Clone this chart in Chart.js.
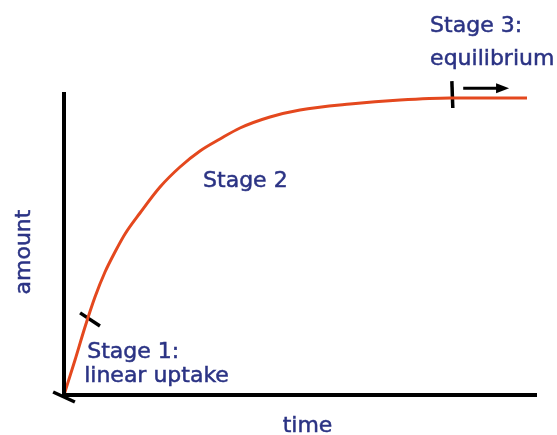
<!DOCTYPE html>
<html>
<head>
<meta charset="utf-8">
<script src="https://cdn.jsdelivr.net/npm/chart.js@4"></script>
<style>
  html, body { margin: 0; padding: 0; background: #fff; }
  #chart { display: block; }
</style>
</head>
<body>
<canvas id="chart" width="557" height="435"></canvas>
<script>
// ── Uptake curve: amount vs time (arbitrary units, 0–100) ──────────
const timeVals   = [0, 2.33, 4.44, 6.55, 8.67, 10.78, 12.9, 16.07, 20.3, 24.52, 28.75, 32.98, 37.21, 43.55, 49.89, 60.47, 71.04, 81.61, 97.89];
const amountVals = [0, 11.55, 22.44, 32.34, 40.59, 47.19, 53.14, 60.07, 68.65, 75.25, 80.53, 84.49, 88.12, 91.75, 94.06, 96.04, 97.36, 98.02, 98.02];

// stage markers (short black strokes across the curve), [x0, y0, x1, y1]
const stageMarks = [
  [-2.3, 1.0, 2.3, -2.3],
  [3.4, 27.1, 7.6, 22.8],
  [82.0, 103.6, 82.2, 94.7]
];
// arrow to the right of stage 3
const arrowFrom = [84.4, 101.2];
const arrowTo   = [94.1, 101.2];

// labels: [text lines, x, baseline y of first line, line gap px, indent of 2nd line]
const stageLabels = [
  [['Stage 1:', 'linear uptake'], 4.9, 12.2, 24, -3],
  [['Stage 2'], 29.4, 68.6, 0, 0],
  [['Stage 3:', 'equilibrium'], 77.4, 119.8, 33, 0]
];

const NAVY = '#2b3384';
const CURVE = '#e4481e';
const FONT = '22px "DejaVu Sans", Verdana, sans-serif';

const pts = timeVals.map((t, i) => ({ x: t, y: amountVals[i] }));

const markSets = stageMarks.map(m => ({
  data: [{ x: m[0], y: m[1] }, { x: m[2], y: m[3] }],
  showLine: true,
  borderColor: '#000',
  borderWidth: 3.5,
  pointRadius: 0,
  clip: false
}));

// ── Axes, arrow and text ───────────────────────────────────────────
const decor = {
  id: 'decor',
  afterDatasetsDraw(chart) {
    const { ctx, chartArea: a, scales: { x, y } } = chart;
    ctx.save();

    // axes
    ctx.strokeStyle = '#000';
    ctx.lineWidth = 4;
    ctx.beginPath();
    ctx.moveTo(x.getPixelForValue(0), a.top);
    ctx.lineTo(x.getPixelForValue(0), y.getPixelForValue(0) + 2);
    ctx.moveTo(x.getPixelForValue(0) - 2, y.getPixelForValue(0));
    ctx.lineTo(a.right, y.getPixelForValue(0));
    ctx.stroke();

    // arrow
    const ax0 = x.getPixelForValue(arrowFrom[0]), ay = y.getPixelForValue(arrowFrom[1]);
    const ax1 = x.getPixelForValue(arrowTo[0]);
    ctx.lineWidth = 3;
    ctx.beginPath();
    ctx.moveTo(ax0, ay);
    ctx.lineTo(ax1 - 8, ay);
    ctx.stroke();
    ctx.fillStyle = '#000';
    ctx.beginPath();
    ctx.moveTo(ax1, ay);
    ctx.lineTo(ax1 - 13, ay - 5);
    ctx.lineTo(ax1 - 13, ay + 5);
    ctx.closePath();
    ctx.fill();

    // stage labels
    ctx.fillStyle = NAVY;
    ctx.strokeStyle = NAVY;
    ctx.lineWidth = 0.5;
    ctx.font = FONT;
    ctx.textAlign = 'left';
    ctx.textBaseline = 'alphabetic';
    const put = (s, px, py) => { ctx.fillText(s, px, py); ctx.strokeText(s, px, py); };
    stageLabels.forEach(([lines, lx, ly, gap, indent]) => {
      const px = x.getPixelForValue(lx);
      const py = y.getPixelForValue(ly);
      lines.forEach((s, i) => put(s, px + (i ? indent : 0), py + i * gap));
    });

    // axis titles
    ctx.textAlign = 'center';
    put('time', (a.left + a.right) / 2 + 7, 432);
    ctx.translate(30, 252);
    ctx.rotate(-Math.PI / 2);
    put('amount', 0, 0);

    ctx.restore();
  }
};

new Chart(document.getElementById('chart'), {
  type: 'scatter',
  data: {
    datasets: [{
      data: pts,
      showLine: true,
      borderColor: CURVE,
      borderWidth: 3,
      pointRadius: 0,
      cubicInterpolationMode: 'monotone',
      clip: false
    }, ...markSets]
  },
  options: {
    responsive: false,
    devicePixelRatio: 1,
    animation: false,
    layout: { padding: { left: 64, right: 20, top: 92, bottom: 40 } },
    scales: {
      x: { type: 'linear', min: 0, max: 100, display: false },
      y: { type: 'linear', min: 0, max: 100, display: false }
    },
    plugins: {
      legend: { display: false },
      tooltip: { enabled: false }
    }
  },
  plugins: [decor]
});
</script>
</body>
</html>
